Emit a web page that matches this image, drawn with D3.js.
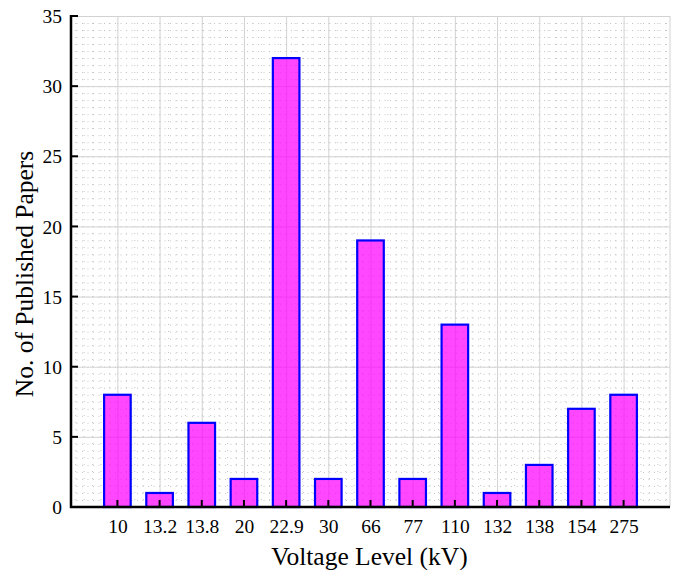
<!DOCTYPE html>
<html>
<head>
<meta charset="utf-8">
<script src="https://cdn.jsdelivr.net/npm/d3@7"></script>
<style>
body { margin: 0; background: #fff; }
text { font-family: "Liberation Serif", "Times New Roman", serif; fill: #000; }
</style>
</head>
<body>
<div id="chart"></div>
<script>
const width = 680, height = 570;
const margin = {top: 16, right: 10, bottom: 63, left: 71};
const innerW = width - margin.left - margin.right;
const innerH = height - margin.top - margin.bottom;

// data
const voltages = ["10", "13.2", "13.8", "20", "22.9", "30", "66", "77", "110", "132", "138", "154", "275"];
const papers = [8, 1, 6, 2, 32, 2, 19, 2, 13, 1, 3, 7, 8];
const yTicks = [0, 5, 10, 15, 20, 25, 30, 35];

var svg = d3.select("#chart")
    .append("svg")
    .attr("width", width)
    .attr("height", height)
    .append("g")
    .attr("transform", "translate(" + margin.left + "," + margin.top + ")");

// category index 1..13 on a linear axis, like the original
var x = d3.scaleLinear().domain([-0.1, voltages.length + 1.1]).range([0, innerW]);
var y = d3.scaleLinear().domain([0, 35]).range([innerH, 0]);

// minor grid (dotted)
var xMinor = d3.range(0, 14.01, 0.2);
var yMinor = d3.range(0, 35.01, 0.5);
svg.append("g").selectAll("line")
    .data(yMinor)
    .enter().append("line")
    .attr("x1", 0).attr("x2", innerW)
    .attr("y1", d => y(d) + 0.5).attr("y2", d => y(d) + 0.5)
    .attr("stroke", "#c4c4c4")
    .attr("stroke-dasharray", "1,4.5");
svg.append("g").selectAll("line")
    .data(xMinor)
    .enter().append("line")
    .attr("y1", 0).attr("y2", innerH)
    .attr("x1", d => x(d) + 0.5).attr("x2", d => x(d) + 0.5)
    .attr("stroke", "#c4c4c4")
    .attr("stroke-dasharray", "1,6");

// major grid
svg.append("g").selectAll("line")
    .data(yTicks)
    .enter().append("line")
    .attr("x1", 0).attr("x2", innerW)
    .attr("y1", d => y(d) + 0.5).attr("y2", d => y(d) + 0.5)
    .attr("stroke", "#d2d2d2");
svg.append("g").selectAll("line")
    .data(d3.range(1, voltages.length + 1))
    .enter().append("line")
    .attr("y1", 0).attr("y2", innerH)
    .attr("x1", d => x(d) + 0.5).attr("x2", d => x(d) + 0.5)
    .attr("stroke", "#d2d2d2");
// right border
svg.append("line")
    .attr("x1", innerW).attr("x2", innerW)
    .attr("y1", 0).attr("y2", innerH)
    .attr("stroke", "#d2d2d2");

// bars
var barW = (x(1) - x(0)) * 0.63;
svg.append("g").selectAll("rect")
    .data(papers)
    .enter().append("rect")
    .attr("x", (d, i) => x(i + 1) - barW / 2)
    .attr("y", d => y(d))
    .attr("width", barW)
    .attr("height", d => innerH - y(d))
    .attr("fill", "#ff00ff")
    .attr("fill-opacity", 0.72)
    .attr("stroke", "#0000ff")
    .attr("stroke-width", 2.2);

// axes
var yAxis = d3.axisLeft(y).tickValues(yTicks).tickSize(0).tickPadding(9);
var gy = svg.append("g").call(yAxis);
gy.select(".domain").remove();
gy.selectAll("text").style("font-size", "19.5px").attr("dy", "0.34em");

var xAxis = d3.axisBottom(x)
    .tickValues(d3.range(1, voltages.length + 1))
    .tickFormat(d => voltages[d - 1])
    .tickSize(0).tickPadding(12);
var gx = svg.append("g").attr("transform", "translate(0," + innerH + ")").call(xAxis);
gx.select(".domain").remove();
gx.selectAll("text").style("font-size", "19.5px").attr("dy", "0.71em");

// inward tick marks
svg.append("g").selectAll("line")
    .data(yTicks)
    .enter().append("line")
    .attr("x1", 0).attr("x2", 7)
    .attr("y1", d => y(d)).attr("y2", d => y(d))
    .attr("stroke", "#000").attr("stroke-width", 2);
svg.append("g").selectAll("line")
    .data(d3.range(1, voltages.length + 1))
    .enter().append("line")
    .attr("x1", d => x(d)).attr("x2", d => x(d))
    .attr("y1", innerH).attr("y2", innerH - 7)
    .attr("stroke", "#000").attr("stroke-width", 2);

// axis lines
svg.append("line")
    .attr("x1", 0).attr("x2", 0).attr("y1", -1).attr("y2", innerH + 1)
    .attr("stroke", "#000").attr("stroke-width", 2.5);
svg.append("line")
    .attr("x1", -1).attr("x2", innerW).attr("y1", innerH).attr("y2", innerH)
    .attr("stroke", "#000").attr("stroke-width", 2.5);

// titles
svg.append("text")
    .attr("x", 369.5 - margin.left)
    .attr("y", innerH + 58)
    .attr("text-anchor", "middle")
    .style("font-size", "25.5px")
    .text("Voltage Level (kV)");
svg.append("text")
    .attr("transform", "translate(" + (-38) + "," + (274 - margin.top) + ") rotate(-90)")
    .attr("text-anchor", "middle")
    .style("font-size", "25.5px")
    .text("No. of Published Papers");
</script>
</body>
</html>
